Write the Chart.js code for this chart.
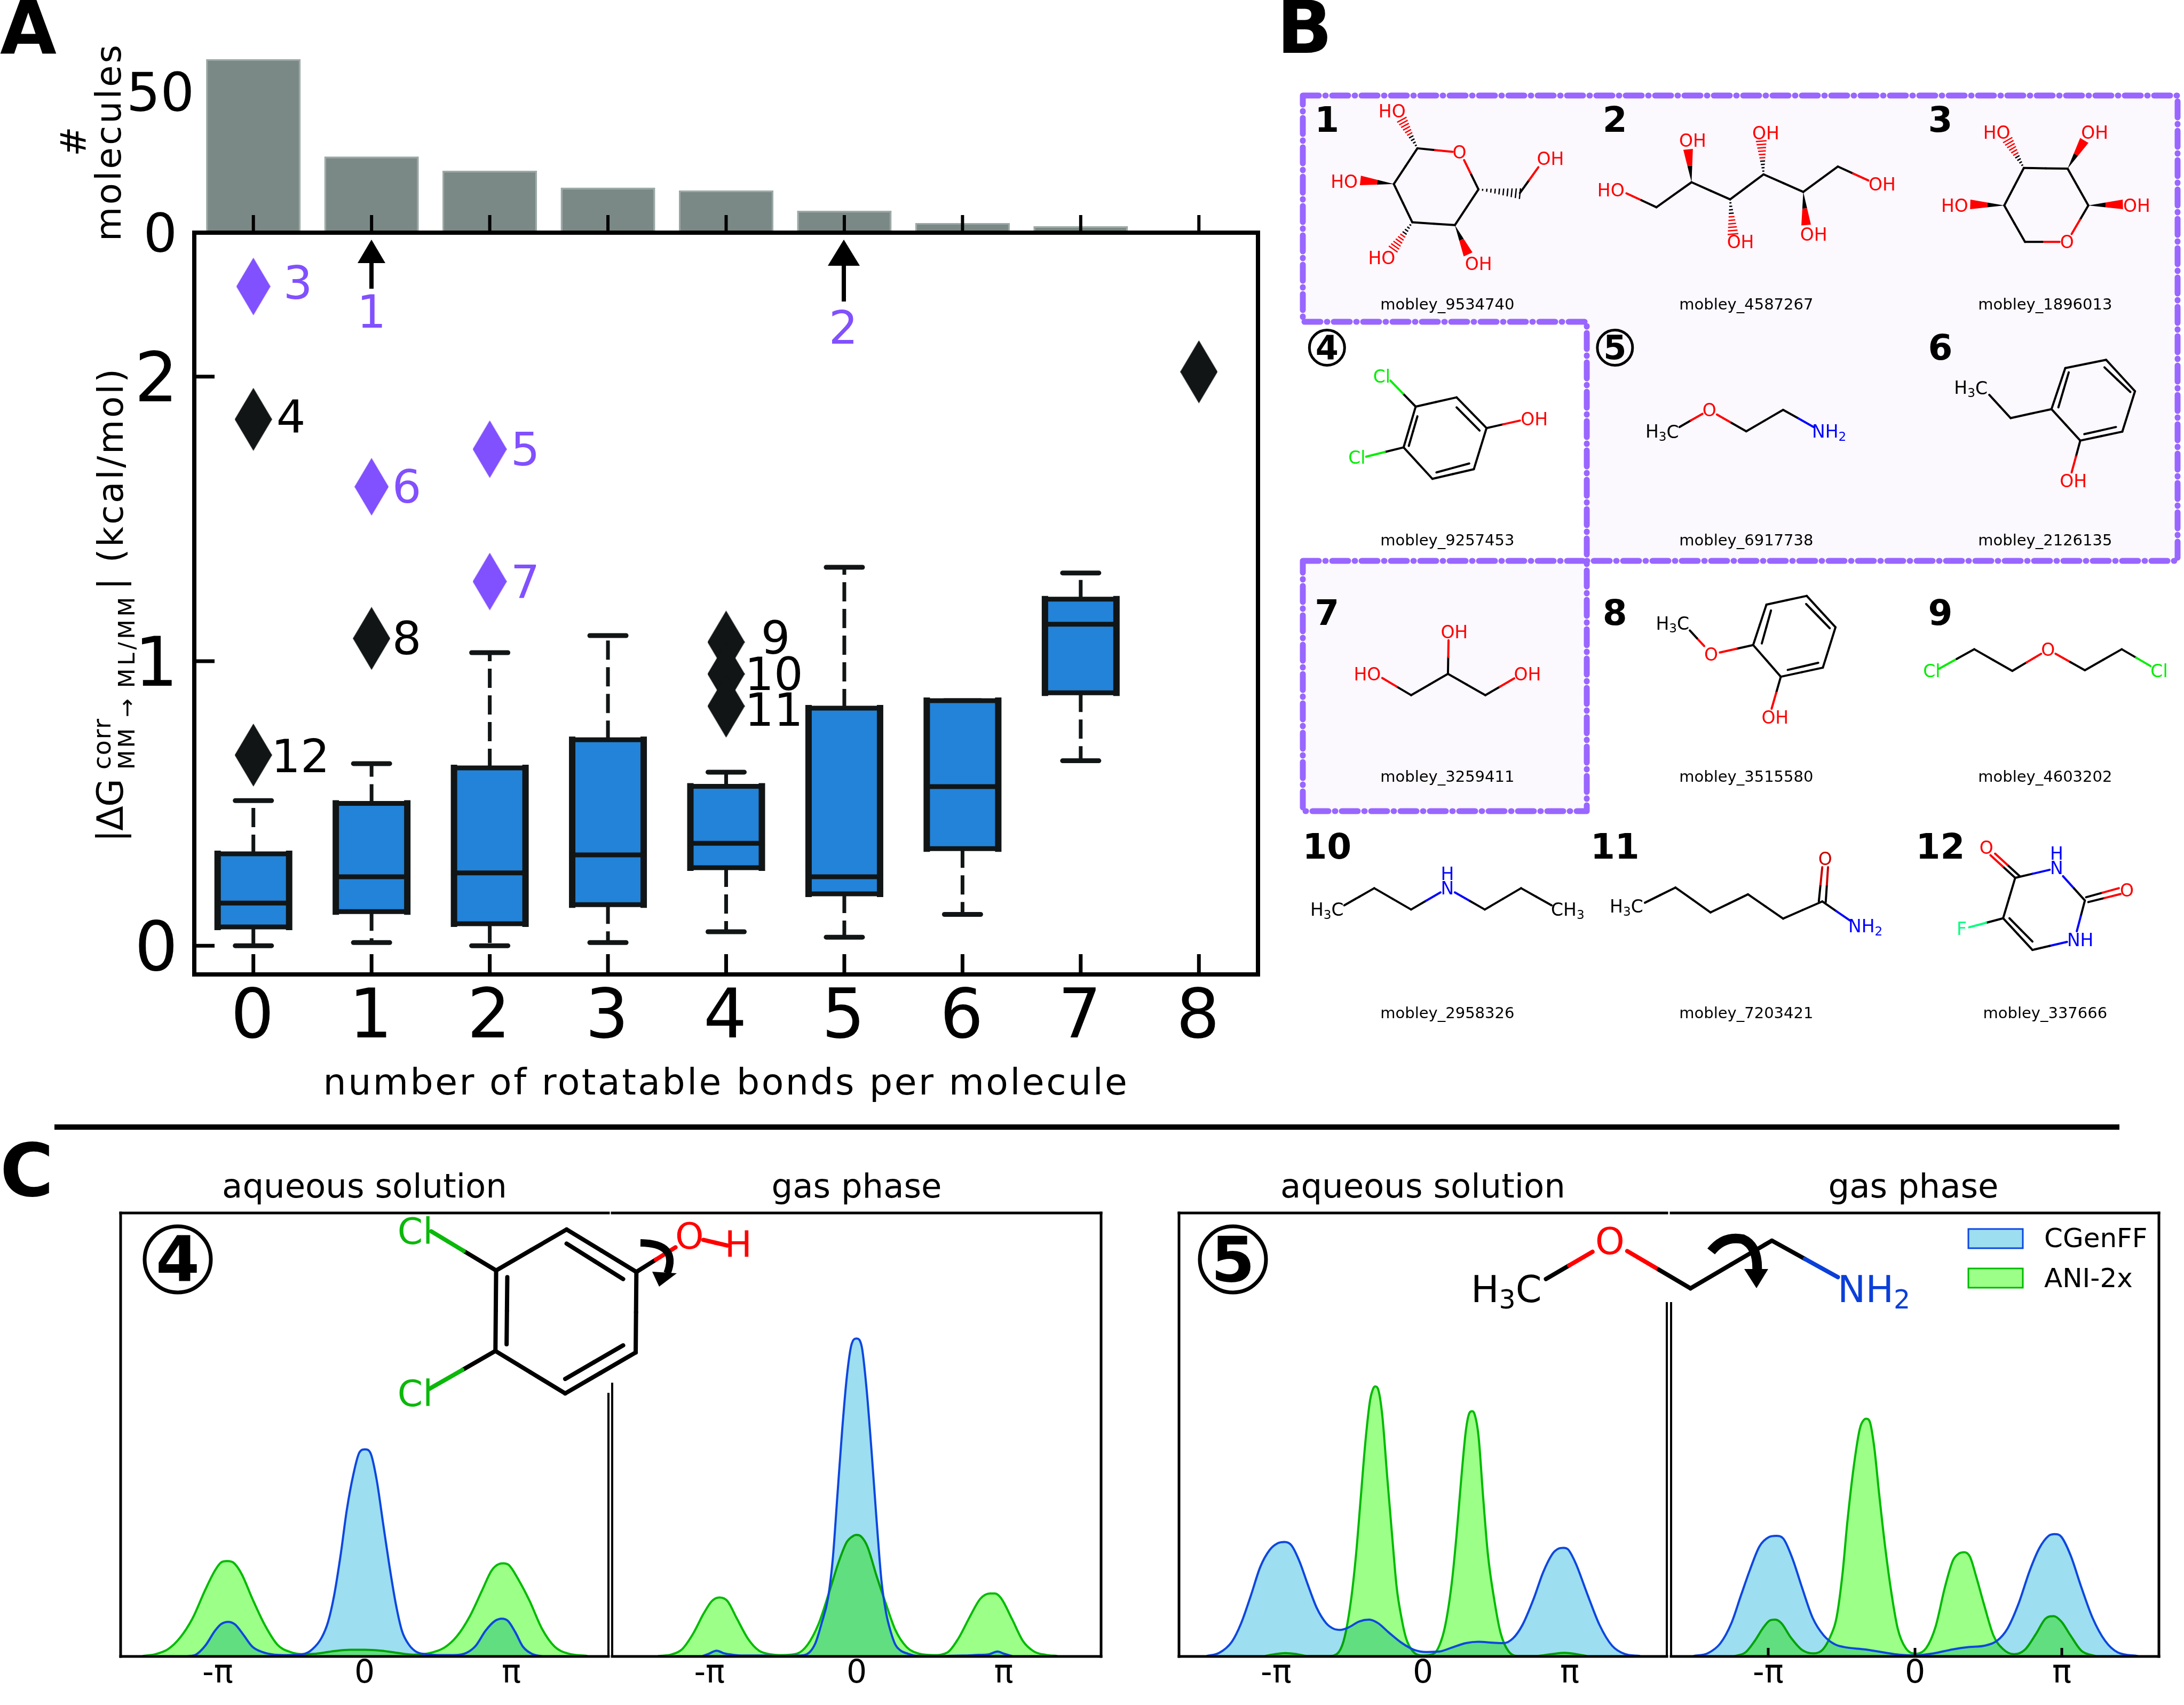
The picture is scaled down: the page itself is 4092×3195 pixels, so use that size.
<!DOCTYPE html>
<html>
<head>
<meta charset="utf-8">
<style>
  html, body { margin: 0; background: #fff; }
  #page { position: relative; width: 4092px; height: 3195px; overflow: hidden; }
  canvas { position: absolute; }
  svg { position: absolute; left: 0; top: 0; }
  svg text { font-family: "DejaVu Sans"; }
</style>
<script src="https://cdn.jsdelivr.net/npm/chart.js@4"></script>
</head>
<body>
<div id="page">
  <canvas id="hist" width="2157" height="480" style="left:220px;top:0"></canvas>
  <canvas id="box" width="2157" height="1667" style="left:220px;top:400px"></canvas>
  <canvas id="c1" width="934" height="911" style="left:216px;top:2263px"></canvas>
  <canvas id="c2" width="936" height="911" style="left:1137px;top:2263px"></canvas>
  <canvas id="c3" width="934" height="911" style="left:2199px;top:2263px"></canvas>
  <canvas id="c4" width="934" height="911" style="left:3121px;top:2263px"></canvas>
  <svg id="art" width="4092" height="3195" xmlns="http://www.w3.org/2000/svg"></svg>
</div>
<script>
// panel A
const rot_bonds = ['0', '1', '2', '3', '4', '5', '6', '7', '8'];
const n_molecules = [61.5, 27, 22, 16, 15, 7.8, 3.4, 2.3, 0.3];
const hist_ticks = [0, 50];
const box_ticks = [0, 1, 2];
const whisker_low = [0, 0.011, 0, 0.011, 0.049, 0.03, 0.11, 0.65, null];
const q1 = [0.066, 0.12, 0.077, 0.144, 0.274, 0.182, 0.341, 0.889, null];
const medians = [0.15, 0.242, 0.256, 0.319, 0.36, 0.242, 0.559, 1.13, null];
const q3 = [0.323, 0.5, 0.625, 0.724, 0.56, 0.835, 0.861, 1.218, null];
const whisker_high = [0.51, 0.64, 1.03, 1.09, 0.61, 1.33, 0.861, 1.31, null];
const black_x = ['0', '0', '1', '4', '4', '4', '8'];
const black_y = [1.85, 0.67, 1.08, 1.067, 0.955, 0.842, 2.017];
const purple_x = ['0', '1', '2', '2'];
const purple_y = [2.317, 1.613, 1.745, 1.28];

// panel C, torsion angle in radians and density in % of the panel height
const torsion_ticks = [-Math.PI, 0, Math.PI];
const torsion_labels = ['-π', '0', 'π'];

const aq4_cgenff_x = [-3.78,-3.61,-3.41,-3.20,-3.07,-2.92,-2.77,-2.60,-2.40,-2.19,-1.93,-1.66,-1.32,-1.12,-.92,-.78,-.65,-.51,-.38,-.24,-.11,.01,.13,.26,.40,.53,.67,.80,.94,1.10,1.31,1.58,1.91,2.18,2.38,2.59,2.79,2.94,3.07,3.23,3.39,3.60,3.80];
const aq4_cgenff_y = [.04,.4,2.4,5.8,7.3,7.8,7.2,5,2.2,1,.4,.3,.5,1.6,4.2,7.8,13.8,23,33,41,46,46.7,45.8,39.8,29.8,20.6,11.8,5.8,2.8,1.1,.5,.3,.3,.8,2.4,5.8,8,8.5,8,5.4,2.2,.5,.04];
const aq4_ani_x = [-4.75,-4.48,-4.21,-3.95,-3.68,-3.41,-3.20,-3.07,-2.94,-2.80,-2.63,-2.40,-2.13,-1.86,-1.59,-1.32,-1.05,-.65,-.31,.01,.36,.70,1.04,1.37,1.71,1.98,2.25,2.52,2.72,2.89,2.97,3.09,3.29,3.53,3.80,4.07,4.34,4.77];
const aq4_ani_y = [.1,.5,1.6,4.2,8.6,15,19.4,21.2,21.5,21.1,18.6,13,7,2.6,1,.5,.6,1.2,1.5,1.5,1.3,.8,.4,.7,2,4.6,9,15,19.4,20.9,21,20.6,17.4,12.6,6.2,2.2,.7,.1];

const gas4_cgenff_x = [-3.30,-3.16,-2.99,-2.83,-2.66,-2.42,-2.02,-1.62,-1.21,-1.01,-.88,-.75,-.61,-.51,-.41,-.31,-.21,-.11,0,.11,.21,.32,.42,.53,.63,.73,.83,.93,1.10,1.27,1.81,2.28,2.61,2.81,3.01,3.15,3.32];
const gas4_cgenff_y = [.05,.6,1.3,.7,.4,.2,.2,.1,.2,.9,3,7.4,13.2,21.9,36.4,50.9,63,70.3,71.7,69.8,60.6,46.1,31.6,17.1,9.8,5.5,2.6,1.4,.6,.15,.1,.2,.35,.45,1.1,.6,.1];
const gas4_ani_x = [-4.24,-3.97,-3.73,-3.50,-3.26,-3.09,-2.93,-2.76,-2.56,-2.32,-2.09,-1.82,-1.58,-1.28,-1.05,-.81,-.58,-.38,-.21,-.07,0,.09,.23,.43,.63,.83,1.07,1.34,1.64,1.94,2.17,2.41,2.64,2.85,2.95,3.08,3.32,3.55,3.79,4.05,4.29];
const gas4_ani_y = [.1,.4,1.6,5,9.8,12.5,13.3,12.5,8.6,4,1.35,.45,.3,.6,2.6,7.4,14.7,21.4,25.8,27.2,27.4,27.1,24.8,18,11.7,5.9,2.1,.6,.3,.9,4,8.8,13,14.2,14.2,13.2,8.4,3.5,1.1,.35,.1];

const aq5_cgenff_x = [-4.63,-4.36,-4.09,-3.89,-3.68,-3.48,-3.28,-3.11,-2.96,-2.81,-2.64,-2.47,-2.27,-2.07,-1.90,-1.77,-1.60,-1.36,-1.15,-.96,-.73,-.46,-.19,.08,.35,.62,.92,1.19,1.49,1.73,1.93,2.13,2.37,2.57,2.77,2.90,3.01,3.11,3.27,3.51,3.78,4.05,4.32,4.65];
const aq5_cgenff_y = [.1,.8,3.3,7.5,13.8,20.2,24,25.5,25.8,25,21.4,16.4,10.9,7.5,6.2,6,6.5,7.9,8.3,7.5,5.4,3.1,1.5,1,1.1,2,3,3.3,3.1,3,4.1,7.1,13,18.9,23.1,24.3,24.5,24.1,21,14.3,7.1,2.4,.55,.1];
const aq5_ani_x = [-3.38,-3.15,-2.95,-2.71,-2.47,-2.00,-1.80,-1.67,-1.53,-1.43,-1.33,-1.23,-1.13,-1.06,-1.02,-.96,-.87,-.76,-.66,-.56,-.46,-.36,-.22,.01,.22,.35,.48,.62,.72,.82,.92,1.00,1.05,1.10,1.19,1.29,1.39,1.53,1.66,1.83,2.06,2.43,2.77,3.04,3.27,3.51];
const aq5_ani_y = [.1,.55,.75,.55,.1,.1,1,4.6,13.4,23.1,35.8,48.5,57.8,60.5,60.9,60.3,54.4,40,27.4,15.5,8.8,4.1,1.2,.2,.55,2.4,7.1,16.8,27.4,40,51,55,55.3,54.8,49.7,35.8,23.1,12.6,5.4,1.2,.1,.1,.55,.8,.55,.1];

const gas5_cgenff_x = [-4.74,-4.44,-4.17,-3.93,-3.73,-3.53,-3.33,-3.13,-2.97,-2.82,-2.62,-2.42,-2.19,-1.95,-1.71,-1.45,-1.08,-.67,-.34,.03,.40,.81,1.14,1.48,1.75,1.98,2.22,2.45,2.66,2.86,2.99,3.13,3.33,3.56,3.80,4.07,4.34,4.77];
const gas5_cgenff_y = [.1,.7,2.9,7.5,13.6,19.6,24.8,26.9,27.2,26.6,22,15.6,8.7,4.7,2.7,2,1.6,.9,.4,.25,.7,1.6,2.1,2.4,3.5,6.3,12,19.2,24.4,27.2,27.6,27,22.8,15.6,8.7,3.5,.9,.1];
const gas5_ani_x = [-3.87,-3.63,-3.43,-3.26,-3.11,-2.99,-2.86,-2.66,-2.42,-2.17,-1.98,-1.82,-1.68,-1.55,-1.45,-1.31,-1.18,-1.09,-1.04,-.97,-.87,-.77,-.64,-.50,-.37,-.20,.03,.24,.44,.64,.81,.94,1.06,1.18,1.31,1.48,1.68,1.88,2.12,2.35,2.59,2.79,2.97,3.13,3.33,3.56,3.87];
const gas5_ani_y = [.05,.9,3.5,6.3,8.1,8.3,7.5,4.3,1.5,.7,1.5,4.3,8.7,18.8,30.1,42.9,51.4,53.4,53.6,53,47,36.9,24.8,14,6.3,1.9,.6,1.9,6.7,15.6,21.6,23.2,23.5,22.4,18,11.6,4.7,1.7,.5,1.5,5.1,8.5,9.1,7.9,4.7,1.3,.05];

Chart.defaults.font.family = 'DejaVu Sans';
Chart.defaults.color = '#000';
Chart.defaults.animation = false;

const BLACK = '#111515';
const PURPLE = '#8150ff';
const BOX_HALF = 67;

// thin diamond marker, matplotlib's "d" looks like this
const diamond = (halfW, halfH, color) => {
    const cv = document.createElement('canvas');
    cv.width = halfW * 2;
    cv.height = halfH * 2;
    const ctx = cv.getContext('2d');
    ctx.fillStyle = color;
    ctx.beginPath();
    ctx.moveTo(halfW, 0);
    ctx.lineTo(halfW * 2, halfH);
    ctx.lineTo(halfW, halfH * 2);
    ctx.lineTo(0, halfH);
    ctx.closePath();
    ctx.fill();
    return cv;
};

// stop tick labels from pushing the plot area around
const noPadding = s => {
    s.paddingTop = 0;
    s.paddingBottom = 0;
    s.paddingLeft = 0;
    s.paddingRight = 0;
};

// an empty first line moves a y tick label down, canvas "middle" sits too high for digits
const lowered = v => ['', String(v)];

// spines
const framePlugin = {
    id: 'frame',
    afterDraw(chart, args, opts) {
        const { ctx, chartArea: a } = chart;
        ctx.save();
        ctx.strokeStyle = '#000';
        ctx.lineWidth = opts.width;
        ctx.lineCap = 'square';
        const side = (x1, y1, x2, y2) => {
            ctx.beginPath();
            ctx.moveTo(x1, y1);
            ctx.lineTo(x2, y2);
            ctx.stroke();
        };
        if (opts.sides.includes('t')) side(a.left, a.top, a.right, a.top);
        if (opts.sides.includes('b')) side(a.left, a.bottom, a.right, a.bottom);
        if (opts.sides.includes('l')) side(a.left, a.top, a.left, a.bottom);
        if (opts.sides.includes('r')) side(a.right, a.top, a.right, a.bottom);
        ctx.restore();
    }
};

// tick marks pointing into the axes
const inTicksPlugin = {
    id: 'inTicks',
    afterDatasetsDraw(chart, args, opts) {
        const { ctx, chartArea: a, scales } = chart;
        ctx.save();
        ctx.strokeStyle = '#000';
        ctx.lineWidth = opts.width;
        if (opts.x) {
            scales.x.ticks.forEach((t, i) => {
                const px = scales.x.getPixelForTick(i);
                ctx.beginPath();
                ctx.moveTo(px, a.bottom);
                ctx.lineTo(px, a.bottom - opts.x);
                ctx.stroke();
            });
        }
        if (opts.y) {
            scales.y.ticks.forEach((t, i) => {
                const py = scales.y.getPixelForTick(i);
                ctx.beginPath();
                ctx.moveTo(a.left, py);
                ctx.lineTo(a.left + opts.y, py);
                ctx.stroke();
            });
        }
        ctx.restore();
    }
};

// whiskers and caps under the floating bars, outlines and medians over them
const boxPartsPlugin = {
    id: 'boxParts',
    beforeDraw(chart) {
        chart.ctx.letterSpacing = '3.5px';
    },
    beforeDatasetsDraw(chart) {
        const { ctx, scales: { x, y } } = chart;
        ctx.save();
        ctx.strokeStyle = BLACK;
        rot_bonds.forEach((b, i) => {
            if (q1[i] === null) return;
            const px = x.getPixelForValue(i);
            ctx.lineWidth = 7;
            ctx.lineCap = 'butt';
            ctx.setLineDash([36, 14]);
            ctx.beginPath();
            ctx.moveTo(px, y.getPixelForValue(q3[i]));
            ctx.lineTo(px, y.getPixelForValue(whisker_high[i]));
            ctx.moveTo(px, y.getPixelForValue(q1[i]));
            ctx.lineTo(px, y.getPixelForValue(whisker_low[i]));
            ctx.stroke();
            ctx.setLineDash([]);
            ctx.lineWidth = 9;
            ctx.lineCap = 'round';
            [whisker_high[i], whisker_low[i]].forEach(v => {
                ctx.beginPath();
                ctx.moveTo(px - 34, y.getPixelForValue(v));
                ctx.lineTo(px + 34, y.getPixelForValue(v));
                ctx.stroke();
            });
        });
        ctx.restore();
    },
    afterDatasetsDraw(chart) {
        const { ctx, scales: { x, y } } = chart;
        ctx.save();
        ctx.strokeStyle = BLACK;
        ctx.lineCap = 'square';
        rot_bonds.forEach((b, i) => {
            if (medians[i] === null) return;
            const px = x.getPixelForValue(i);
            const top = y.getPixelForValue(q3[i]);
            const bottom = y.getPixelForValue(q1[i]);
            const mid = y.getPixelForValue(medians[i]);
            ctx.lineWidth = 12;
            ctx.beginPath();
            ctx.moveTo(px - BOX_HALF, top);
            ctx.lineTo(px - BOX_HALF, bottom);
            ctx.moveTo(px + BOX_HALF, top);
            ctx.lineTo(px + BOX_HALF, bottom);
            ctx.stroke();
            ctx.lineWidth = 9;
            ctx.beginPath();
            [top, bottom, mid].forEach(v => {
                ctx.moveTo(px - BOX_HALF, v);
                ctx.lineTo(px + BOX_HALF, v);
            });
            ctx.stroke();
        });
        ctx.restore();
    }
};

new Chart(document.getElementById('hist'), {
    type: 'bar',
    data: {
        labels: rot_bonds,
        datasets: [{
            data: n_molecules,
            backgroundColor: '#7b8986',
            borderColor: '#9aa8a5',
            borderWidth: 3,
            barPercentage: 0.8,
            categoryPercentage: 1
        }]
    },
    plugins: [inTicksPlugin],
    options: {
        responsive: false,
        layout: { padding: { top: 66, right: 20, bottom: 44 } },
        plugins: {
            legend: { display: false },
            tooltip: { enabled: false },
            inTicks: { x: 33, width: 6 }
        },
        scales: {
            x: { display: false },
            y: {
                min: 0,
                max: 70,
                afterFit: s => { s.width = 144; noPadding(s); },
                afterBuildTicks: s => { s.ticks = hist_ticks.map(v => ({ value: v })); },
                grid: { display: false, drawTicks: false },
                border: { display: false },
                ticks: { padding: 0, crossAlign: 'center', font: { size: 100, lineHeight: 0.2 }, callback: lowered }
            }
        }
    }
});

new Chart(document.getElementById('box'), {
    type: 'bar',
    data: {
        labels: rot_bonds,
        datasets: [{
            type: 'line',
            showLine: false,
            data: black_x.map((x, i) => ({ x: x, y: black_y[i] })),
            pointStyle: diamond(35, 59, BLACK)
        }, {
            type: 'line',
            showLine: false,
            data: purple_x.map((x, i) => ({ x: x, y: purple_y[i] })),
            pointStyle: diamond(32, 54, PURPLE)
        }, {
            type: 'bar',
            data: q1.map((v, i) => (v === null ? null : [v, q3[i]])),
            backgroundColor: '#2283d8',
            borderWidth: 0,
            barPercentage: 0.605,
            categoryPercentage: 1
        }]
    },
    plugins: [boxPartsPlugin, inTicksPlugin, framePlugin],
    options: {
        responsive: false,
        layout: { padding: { top: 36, right: 20 } },
        plugins: {
            legend: { display: false },
            tooltip: { enabled: false },
            inTicks: { x: 38, y: 38, width: 7 },
            frame: { sides: 'tblr', width: 8 }
        },
        scales: {
            x: {
                afterFit: s => { s.height = 241; noPadding(s); },
                grid: { display: false, drawTicks: false },
                border: { display: false },
                ticks: { padding: 21, maxRotation: 0, font: { size: 128, lineHeight: 1 } },
                title: {
                    display: true,
                    text: 'number of rotatable bonds per molecule',
                    font: { size: 68, lineHeight: 1 },
                    padding: 0
                }
            },
            y: {
                min: -0.101,
                max: 2.506,
                afterFit: s => { s.width = 144; noPadding(s); },
                afterBuildTicks: s => { s.ticks = box_ticks.map(v => ({ value: v })); },
                grid: { display: false, drawTicks: false },
                border: { display: false },
                ticks: { padding: 27, font: { size: 128, lineHeight: 0.2 }, callback: lowered }
            }
        }
    }
});

// green is painted first, then the blue fill multiplies over it
const blendPlugin = {
    id: 'blend',
    afterDatasetDraw(chart, args) {
        if (args.index === 2) chart.ctx.globalCompositeOperation = 'multiply';
        if (args.index === 1) chart.ctx.globalCompositeOperation = 'source-over';
    }
};

const points = (xs, ys) => xs.map((x, i) => ({ x: x, y: ys[i] }));

const drawDensity = (id, cg_x, cg_y, ani_x, ani_y, sides, tickLen) => {
    const common = { pointRadius: 0, cubicInterpolationMode: 'monotone', fill: false };
    new Chart(document.getElementById(id), {
        type: 'line',
        data: {
            datasets: [
                { ...common, label: 'CGenFF', data: points(cg_x, cg_y), borderColor: '#0d47e0', borderWidth: 4 },
                { ...common, label: 'CGenFF fill', data: points(cg_x, cg_y), borderColor: 'rgba(0,0,0,0)', borderWidth: 1, fill: 'origin', backgroundColor: '#9ddef0' },
                { ...common, label: 'ANI-2x', data: points(ani_x, ani_y), borderColor: '#00bb00', borderWidth: 4, fill: 'origin', backgroundColor: '#9bff88' }
            ]
        },
        plugins: [blendPlugin, inTicksPlugin, framePlugin],
        options: {
            responsive: false,
            layout: { padding: { left: 10, right: 10, top: 10 } },
            plugins: {
                legend: { display: false },
                tooltip: { enabled: false },
                inTicks: { x: tickLen, width: 5 },
                frame: { sides: sides, width: 5 }
            },
            scales: {
                x: {
                    type: 'linear',
                    min: -5.22,
                    max: 5.22,
                    afterFit: s => { s.height = 70; noPadding(s); },
                    afterBuildTicks: s => { s.ticks = torsion_ticks.map(v => ({ value: v })); },
                    grid: { display: false, drawTicks: false },
                    border: { display: false },
                    ticks: {
                        padding: 3,
                        maxRotation: 0,
                        font: { size: 60, lineHeight: 1 },
                        callback: (v, i) => torsion_labels[i]
                    }
                },
                y: { display: false, min: 0, max: 100 }
            }
        }
    });
};

drawDensity('c1', aq4_cgenff_x, aq4_cgenff_y, aq4_ani_x, aq4_ani_y, 'tbl', 0);
drawDensity('c2', gas4_cgenff_x, gas4_cgenff_y, gas4_ani_x, gas4_ani_y, 'tbr', 0);
drawDensity('c3', aq5_cgenff_x, aq5_cgenff_y, aq5_ani_x, aq5_ani_y, 'tbl', 0);
drawDensity('c4', gas5_cgenff_x, gas5_cgenff_y, gas5_ani_x, gas5_ani_y, 'tbr', 16);

// ---- everything below is annotation: letters, labels, molecule sketches ----
let svg = '';

const sized = (s, size) => s.replace(/~(\d)(.*)/, (m, d, rest) =>
    `<tspan dy="${.28 * size}" font-size="${.7 * size}">${d}</tspan>` +
    (rest ? `<tspan dy="${-.28 * size}">${rest}</tspan>` : ''));

const txt = (x, y, s, size, o = {}) => {
    const fit = o.len ? ` textLength="${o.len}" lengthAdjust="spacing"` : '';
    const rot = o.rot ? ` transform="rotate(${o.rot} ${x} ${y})"` : '';
    const base = o.base ? '' : ' dominant-baseline="central"';
    svg += `<text x="${x}" y="${y}" font-size="${size}" fill="${o.fill || '#000'}" font-weight="${o.weight || 'normal'}"` +
        ` text-anchor="${o.anchor || 'middle'}"${base}${fit}${rot}>${sized(s, size)}</text>`;
};

const line = (x1, y1, x2, y2, color, w) => {
    svg += `<line x1="${x1}" y1="${y1}" x2="${x2}" y2="${y2}" stroke="${color}" stroke-width="${w}"/>`;
};

// panel letters, dividing rule
txt(0, 100, 'A', 137, { weight: 'bold', anchor: 'start', base: 1 });
txt(2392, 99, 'B', 137, { weight: 'bold', anchor: 'start', base: 1 });
txt(0, 2241, 'C', 137, { weight: 'bold', anchor: 'start', base: 1 });
line(102, 2112, 3971, 2112, '#000', 10);

// axis labels of panel A
txt(160, 265, '#', 66, { rot: -90, base: 1 });
txt(226, 268, 'molecules', 66, { rot: -90, base: 1, len: 368 });
txt(230, 1578, '|ΔG', 68, { rot: -90, base: 1, anchor: 'start', len: 119 });
txt(207, 1442, 'corr', 46, { rot: -90, base: 1, anchor: 'start', len: 95 });
txt(252, 1442, 'MM', 42, { rot: -90, base: 1, anchor: 'start', len: 77 });
txt(252, 1344, '→', 42, { rot: -90, base: 1, anchor: 'start' });
txt(252, 1289, 'ML/MM', 42, { rot: -90, base: 1, anchor: 'start', len: 170 });
txt(230, 1105, '| (kcal/mol)', 66, { rot: -90, base: 1, anchor: 'start', len: 414 });

// outlier numbers and arrows of panel A
[['3', 558, 530, PURPLE], ['1', 696, 584, PURPLE], ['2', 1580, 614, PURPLE], ['5', 984, 842, PURPLE],
 ['6', 762, 912, PURPLE], ['7', 984, 1090, PURPLE], ['4', 545, 781, '#000'], ['8', 762, 1196, '#000'],
 ['9', 1453, 1195, '#000'], ['10', 1450, 1263, '#000'], ['11', 1450, 1330, '#000'], ['12', 563, 1417, '#000']
].forEach(n => txt(n[1], n[2], n[0], 86, { fill: n[3] }));

const upArrow = (x, tip, base, end, half) => {
    line(x, base, x, end, '#000', 8);
    svg += `<polygon points="${x},${tip} ${x - half},${base} ${x + half},${base}" fill="#000"/>`;
};
upArrow(696, 449, 493, 541, 26);
upArrow(1581, 449, 498, 565, 30);

// highlighted molecules of panel B
const regionStyle = 'fill="#fbf8fe" stroke="#9966ff" stroke-width="11" stroke-linecap="round" stroke-linejoin="round" stroke-dasharray="30 12 1 12"';
svg += `<polygon points="2441,179 4080,179 4080,1051 2973,1051 2973,603 2441,603" ${regionStyle}/>`;
svg += `<polygon points="2441,1051 2973,1051 2973,1520 2441,1520" ${regionStyle}/>`;

const ATOM = { k: '#000', r: '#f00', b: '#0000ff', g: '#00ee00', f: '#00ff80', d: '#cc0000', c: '#0ab80a', u: '#0a3fd8' };
const z5 = (x, y) => [2400 + x * 1.079, y * .6696];
const z6 = (x, y) => [2400 + x * 1.079, 1030 + y * .6059];
const z3 = (x, y) => [x * 1.3074, 2100 + y * .6983];
const z4 = (x, y) => [2050 + x * 1.3023, 2100 + y * .6983];

const bonds = (z, list, w) => list.forEach(b => {
    const [x1, y1] = z(b[0], b[1]);
    const [x2, y2] = z(b[2], b[3]);
    const c1 = ATOM[b[4] || 'k'];
    const c2 = ATOM[b[5] || b[4] || 'k'];
    const mx = (x1 + x2) / 2;
    const my = (y1 + y2) / 2;
    svg += `<path d="M${x1} ${y1}L${mx} ${my}" stroke="${c1}" stroke-width="${w}" stroke-linecap="round"/>`;
    svg += `<path d="M${mx} ${my}L${x2} ${y2}" stroke="${c2}" stroke-width="${w}" stroke-linecap="round"/>`;
});

const wedges = (z, list) => list.forEach(b => {
    const [x1, y1] = z(b[0], b[1]);
    const [x2, y2] = z(b[2], b[3]);
    const len = Math.hypot(x2 - x1, y2 - y1);
    const nx = -(y2 - y1) / len * 9;
    const ny = (x2 - x1) / len * 9;
    const mx = (x1 + x2) / 2;
    const my = (y1 + y2) / 2;
    svg += `<polygon points="${x1},${y1} ${mx + nx / 2},${my + ny / 2} ${mx - nx / 2},${my - ny / 2}" fill="#000"/>`;
    svg += `<polygon points="${mx + nx / 2},${my + ny / 2} ${x2 + nx},${y2 + ny} ${x2 - nx},${y2 - ny} ${mx - nx / 2},${my - ny / 2}" fill="${ATOM[b[4] || 'r']}"/>`;
});

const hashes = (z, list) => list.forEach(b => {
    const [x1, y1] = z(b[0], b[1]);
    const [x2, y2] = z(b[2], b[3]);
    const len = Math.hypot(x2 - x1, y2 - y1);
    const nx = -(y2 - y1) / len;
    const ny = (x2 - x1) / len;
    for (let t = 0; t <= 1.001; t += 0.1) {
        const px = x1 + (x2 - x1) * t;
        const py = y1 + (y2 - y1) * t;
        const h = 1 + 9 * t;
        const color = t < .5 ? '#000' : ATOM[b[4] || 'r'];
        line(px + nx * h, py + ny * h, px - nx * h, py - ny * h, color, 2.5);
    }
});

const labels = (z, list, size) => list.forEach(l => {
    const [x, y] = z(l[0], l[1]);
    txt(x, y, l[2], size, { fill: ATOM[l[3]] });
});

const circled = (x, y, r, sw, num, size) => {
    svg += `<circle cx="${x}" cy="${y}" r="${r}" fill="none" stroke="#000" stroke-width="${sw}"/>`;
    txt(x, y, num, size, { weight: 'bold' });
};

// numbers and names of the molecules
[[z5, 80, 335, '1'], [z5, 580, 335, '2'], [z5, 1145, 335, '3'], [z5, 1145, 973, '6'],
 [z6, 80, 195, '7'], [z6, 580, 195, '8'], [z6, 1145, 195, '9'],
 [z6, 80, 918, '10'], [z6, 580, 918, '11'], [z6, 1145, 918, '12']
].forEach(n => { const p = n[0](n[1], n[2]); txt(p[0], p[1], n[3], 66, { weight: 'bold' }); });
circled(...z5(80, 973), 33, 5, '4', 62);
circled(...z5(580, 973), 33, 5, '5', 62);

[[z5, 289, 851, '9534740'], [z5, 808, 851, '4587267'], [z5, 1327, 851, '1896013'],
 [z5, 289, 1512, '9257453'], [z5, 808, 1512, '6917738'], [z5, 1327, 1512, '2126135'],
 [z6, 289, 702, '3259411'], [z6, 808, 702, '3515580'], [z6, 1327, 702, '4603202'],
 [z6, 289, 1432, '2958326'], [z6, 808, 1432, '7203421'], [z6, 1327, 1432, '337666']
].forEach(n => { const p = n[0](n[1], n[2]); txt(p[0], p[1], 'mobley_' + n[3], 29); });

// molecule 1
bonds(z5, [[237,415,298,425,'k','r'],[318,448,343,530,'r','k'],[343,530,302,630],[302,630,228,622],[228,622,196,515],[196,515,237,415],[415,540,447,468,'k','r']], 4);
hashes(z5, [[237,415,210,335],[228,622,195,697],[343,530,415,542,'k']]);
wedges(z5, [[196,515,138,505],[302,630,325,712]]);
labels(z5, [[193,312,'HO','r'],[110,508,'HO','r'],[175,722,'HO','r'],[343,738,'OH','r'],[468,445,'OH','r'],[310,427,'O','r']], 33);
// molecule 2
bonds(z5, [[600,541,652,580,'r','k'],[652,580,713,510],[713,510,780,558],[780,558,838,488],[838,488,907,537],[907,537,967,466],[967,466,1020,505,'k','r']], 4);
wedges(z5, [[713,510,707,418],[907,537,912,630]]);
hashes(z5, [[780,558,785,655],[838,488,834,395]]);
labels(z5, [[573,533,'HO','r'],[1044,516,'OH','r'],[715,394,'OH','r'],[798,678,'OH','r'],[842,372,'OH','r'],[925,656,'OH','r']], 33);
// molecule 3
bonds(z5, [[1290,470,1366,472],[1366,472,1402,575],[1402,575,1373,655,'k','r'],[1352,677,1292,677,'r','k'],[1292,677,1256,575],[1256,575,1290,470]], 4);
hashes(z5, [[1290,470,1262,392]]);
wedges(z5, [[1366,472,1395,393],[1402,575,1462,572],[1256,575,1197,572]]);
labels(z5, [[1243,371,'HO','r'],[1413,371,'OH','r'],[1486,576,'OH','r'],[1170,575,'HO','r'],[1365,678,'O','r']], 33);
// molecule 4
bonds(z5, [[234,1138,305,1112],[305,1112,357,1198],[357,1198,335,1313],[335,1313,263,1340],[263,1340,213,1252],[213,1252,234,1138],[305,1140,345,1205],[237,1165,222,1248],[327,1297,270,1322],[234,1138,190,1065,'k','g'],[213,1252,148,1278,'k','g'],[357,1198,415,1177,'k','r']], 4);
labels(z5, [[175,1053,'Cl','g'],[132,1280,'Cl','g'],[440,1173,'OH','r']], 33);
// molecule 5
bonds(z5, [[692,1195,732,1158,'k','r'],[757,1160,808,1207,'r','k'],[808,1207,872,1147],[872,1147,925,1195,'k','b']], 4);
labels(z5, [[662,1208,'H~3C','k'],[744,1148,'O','r'],[952,1208,'NH~2','b']], 33);
// molecule 6
bonds(z5, [[1338,1145,1362,1030],[1362,1030,1433,1007],[1433,1007,1483,1095],[1483,1095,1461,1208],[1461,1208,1388,1233],[1388,1233,1338,1145],[1350,1140,1368,1042],[1430,1028,1475,1097],[1450,1195,1395,1215],[1338,1145,1267,1170],[1267,1170,1230,1105],[1388,1233,1373,1322,'k','r']], 4);
labels(z5, [[1198,1085,'H~3C','k'],[1376,1347,'OH','r']], 33);
// molecule 7
bonds(z6, [[290,384,291,280,'k','r'],[290,384,226,450],[226,450,176,397,'k','r'],[290,384,355,450],[355,450,405,398,'k','r']], 4);
labels(z6, [[301,255,'OH','r'],[150,386,'HO','r'],[428,386,'OH','r']], 33);
// molecule 8
bonds(z6, [[820,295,843,170],[843,170,913,143],[913,143,963,240],[963,240,941,365],[941,365,868,393],[868,393,820,295],[835,290,851,188],[912,168,953,243],[933,350,880,372],[820,295,762,318,'k','r'],[735,298,710,250,'r','k'],[868,393,852,492,'k','r']], 4);
labels(z6, [[747,324,'O','r'],[680,228,'H~3C','k'],[858,519,'OH','r']], 33);
// molecule 9
bonds(z6, [[1143,368,1204,308,'g','k'],[1204,308,1270,375],[1270,375,1320,322,'k','r'],[1345,322,1396,373,'r','k'],[1396,373,1460,308],[1460,308,1510,360,'k','g']], 4);
labels(z6, [[1130,375,'Cl','g'],[1332,309,'O','r'],[1525,375,'Cl','g']], 33);
// molecule 10
bonds(z6, [[110,1100,162,1047],[162,1047,226,1113],[226,1113,277,1060,'k','b'],[302,1060,354,1113,'b','k'],[354,1113,417,1047],[417,1047,470,1100]], 4);
labels(z6, [[80,1113,'H~3C','k'],[289,1048,'N','b'],[289,1002,'H','b'],[498,1113,'CH~3','k']], 33);
// molecule 11
bonds(z6, [[632,1092,685,1045],[685,1045,746,1122],[746,1122,811,1066],[811,1066,872,1141],[872,1141,940,1088],[934,1088,940,982,'k','d'],[946,1090,950,982,'k','d'],[940,1088,988,1147,'k','b']], 4);
labels(z6, [[600,1103,'H~3C','k'],[945,956,'O','d'],[1015,1165,'NH~2','b']], 33);
// molecule 12
bonds(z6, [[1275,1015,1335,990,'k','b'],[1358,1010,1396,1085,'b','k'],[1398,1075,1455,1047,'k','r'],[1402,1090,1458,1065,'k','r'],[1396,1085,1382,1180,'k','b'],[1365,1213,1305,1238,'b','k'],[1305,1238,1254,1140],[1305,1212,1265,1140],[1254,1140,1275,1015],[1254,1140,1195,1168,'k','f'],[1275,1015,1232,945,'k','r'],[1283,1010,1240,940,'k','r']], 4);
labels(z6, [[1347,985,'N','b'],[1347,940,'H','b'],[1469,1053,'O','r'],[1388,1208,'NH','b'],[1182,1172,'F','f'],[1225,921,'O','r']], 33);

// panel C titles, partial inner spines, circled numbers
txt(683, 2222, 'aqueous solution', 62.5);
txt(1605, 2222, 'gas phase', 62.5);
txt(2666, 2222, 'aqueous solution', 62.5);
txt(3585, 2222, 'gas phase', 62.5);
line(1140, 2610, 1140, 3104, '#000', 4);
line(1147, 2591, 1147, 3104, '#000', 4);
line(3123, 2440, 3123, 3104, '#000', 4);
line(3131, 2440, 3131, 3104, '#000', 4);
circled(333, 2360, 62, 7, '4', 118);
circled(2310, 2360, 62, 7, '5', 118);

// dichlorophenol sketch
bonds(z3, [[711,402,812,292],[812,292,912,406],[912,406,911,622],[911,622,810,732],[810,732,710,618],[710,618,711,402],[812,330,893,425],[727,420,726,600],[893,603,810,693],[711,402,618,297,'k','c'],[710,618,615,720,'k','c'],[912,406,968,340,'k','r'],[1008,320,1042,335,'r']], 8);
labels(z3, [[595,297,'Cl','c'],[595,733,'Cl','c'],[988,310,'O','r'],[1058,332,'H','r']], 68);
svg += '<path d="M1200 2329Q1272 2330 1250 2386" fill="none" stroke="#000" stroke-width="14"/>';
svg += '<polygon points="1235,2411 1222,2383 1268,2386" fill="#000"/>';

// methoxyethylamine sketch
bonds(z4, [[650,425,717,352,'k','r'],[767,350,858,450,'r','k'],[858,450,975,322],[975,322,1070,420,'k','u']], 8);
labels(z4, [[593,452,'H~3C','k'],[742,323,'O','r'],[1122,452,'NH~2','u']], 70);
svg += '<path d="M3206 2345Q3230 2315 3265 2322Q3295 2335 3292 2385" fill="none" stroke="#000" stroke-width="18"/>';
svg += '<polygon points="3291,2414 3268,2378 3313,2378" fill="#000"/>';

// legend of the last panel
svg += '<rect x="3688" y="2303" width="102" height="36" fill="#9ddef0" stroke="#0d47e0" stroke-width="3"/>';
svg += '<rect x="3688" y="2377" width="102" height="36" fill="#9bff88" stroke="#00bb00" stroke-width="3"/>';
txt(3830, 2320, 'CGenFF', 50, { anchor: 'start' });
txt(3830, 2395, 'ANI-2x', 50, { anchor: 'start' });

document.getElementById('art').innerHTML = svg;
</script>
</body>
</html>
